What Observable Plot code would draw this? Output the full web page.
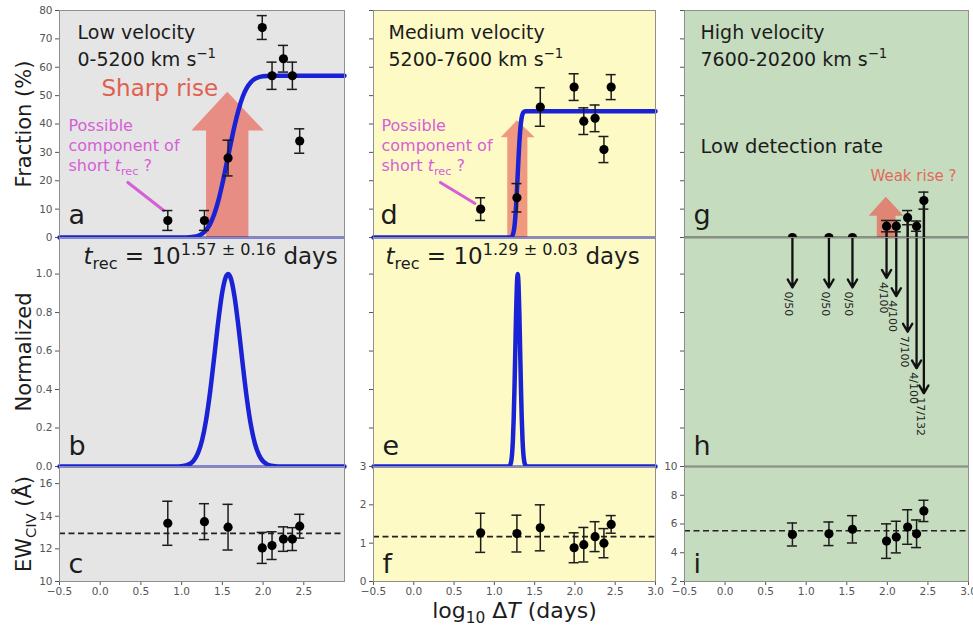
<!DOCTYPE html>
<html><head><meta charset="utf-8">
<script src="https://cdn.jsdelivr.net/npm/d3@7"></script>
<script src="https://cdn.jsdelivr.net/npm/@observablehq/plot@0.6"></script>
<style>
body{margin:0;background:#fff;}
#fig{position:relative;width:973px;height:628px;overflow:hidden;background:#fff;}
#fig svg{position:absolute;overflow:visible;}
</style></head><body><div id="fig"></div>
<script>
// ---------------- data ----------------
const logDT = [0.83, 1.28, 1.57, 1.99, 2.11, 2.25, 2.36, 2.45];
const fracLow = [6, 6, 28, 74, 57, 63, 57, 34];
const fracLowErr = [3.5, 3.5, 6.3, 4.2, 4.8, 4.7, 4.8, 4.3];
const fracMed = [10, 14, 46, 53, 41, 42, 31, 53];
const fracMedErr = [4, 5, 6.8, 4.7, 4.7, 4.7, 4.6, 4.4];
const fracHigh = [0, 0, 0, 4, 4, 7, 4, 13];
const fracHighErr = [0, 0, 0, 2, 2, 2.5, 1.8, 3];
const detLabels = ["0/50", "0/50", "0/50", "4/100", "4/100", "7/100", "4/100", "17/132"];
const detArrowEnd = [0.93, 0.93, 0.93, 0.98, 0.885, 0.70, 0.51, 0.38];
const ewLow = [13.57, 13.67, 13.33, 12.06, 12.2, 12.6, 12.6, 13.39];
const ewLowErr = [1.35, 1.1, 1.4, 0.95, 0.85, 0.75, 0.7, 0.73];
const ewMed = [1.27, 1.25, 1.40, 0.88, 0.96, 1.17, 1.0, 1.49];
const ewMedErr = [0.51, 0.48, 0.6, 0.39, 0.45, 0.39, 0.38, 0.23];
const ewHigh = [5.27, 5.32, 5.63, 4.81, 5.09, 5.79, 5.32, 6.91];
const ewHighErr = [0.8, 0.82, 0.95, 1.2, 1.1, 1.2, 0.96, 0.74];
const ewMean = {low: 12.95, med: 1.17, high: 5.53};

// fitted curves
const fitLowX = [-0.5, 0.95, 1.00, 1.05, 1.10, 1.15, 1.20, 1.25, 1.30, 1.35, 1.40, 1.45, 1.50, 1.55, 1.60, 1.65, 1.70, 1.75, 1.80, 1.85, 1.90, 1.95, 2.00, 2.10, 3.0];
const fitLowY = [0, 0, 0.01, 0.03, 0.09, 0.25, 0.59, 1.3, 2.6, 4.8, 8.2, 12.9, 18.9, 25.7, 32.7, 39.4, 45.1, 49.6, 52.7, 54.7, 55.9, 56.5, 56.8, 57.0, 57.0];
const pdfLowX = [-0.5, 0.95, 1.00, 1.05, 1.10, 1.15, 1.20, 1.25, 1.30, 1.35, 1.40, 1.45, 1.50, 1.55, 1.57, 1.60, 1.65, 1.70, 1.75, 1.80, 1.85, 1.90, 1.95, 2.00, 2.05, 2.10, 2.15, 2.20, 3.0];
const pdfLowY = [0, 0, 0.002, 0.005, 0.013, 0.032, 0.069, 0.135, 0.241, 0.389, 0.569, 0.755, 0.909, 0.992, 1.0, 0.983, 0.882, 0.719, 0.531, 0.356, 0.216, 0.119, 0.060, 0.027, 0.011, 0.004, 0.001, 0, 0];
const fitMedX = [-0.5, 1.17, 1.18, 1.19, 1.20, 1.21, 1.22, 1.23, 1.24, 1.25, 1.26, 1.27, 1.28, 1.29, 1.30, 1.31, 1.32, 1.33, 1.34, 1.35, 1.36, 1.37, 1.38, 1.39, 1.41, 3.0];
const fitMedY = [0, 0, 0.01, 0.02, 0.06, 0.17, 0.44, 1.01, 2.13, 4.06, 7.06, 11.24, 16.44, 22.25, 28.06, 33.26, 37.44, 40.44, 42.37, 43.49, 44.06, 44.33, 44.44, 44.48, 44.5, 44.5];
const pdfMedX = [-0.5, 1.16, 1.17, 1.18, 1.19, 1.20, 1.21, 1.22, 1.23, 1.24, 1.25, 1.26, 1.27, 1.28, 1.29, 1.30, 1.31, 1.32, 1.33, 1.34, 1.35, 1.36, 1.37, 1.38, 1.39, 1.40, 1.41, 1.42, 3.0];
const pdfMedY = [0, 0, 0.0003, 0.0012, 0.0039, 0.0111, 0.0286, 0.0657, 0.1353, 0.2494, 0.4111, 0.6065, 0.8007, 0.946, 1, 0.946, 0.8007, 0.6065, 0.4111, 0.2494, 0.1353, 0.0657, 0.0286, 0.0111, 0.0039, 0.0012, 0.0003, 0, 0];

// highlight arrows (outline vertices, data units)
const sharpArrowX = [1.30, 1.30, 1.12, 1.56, 2.01, 1.82, 1.82];
const sharpArrowY = [0, 37.7, 37.7, 51.4, 37.7, 37.7, 0];
const medArrowX = [1.16, 1.16, 1.08, 1.28, 1.50, 1.41, 1.41];
const medArrowY = [0, 35.3, 35.3, 41.3, 35.3, 35.3, 0];
const weakArrowX = [1.87, 1.87, 1.77, 1.98, 2.20, 2.10, 2.10];
const weakArrowY = [0, 7.7, 7.7, 14.4, 7.7, 7.7, 0];
const pointerLowX = [0.34, 0.78], pointerLowY = [19.4, 9.5];
const pointerMedX = [0.33, 0.76], pointerMedY = [19.4, 12.0];

// tick values
const xTicksLeft = [-0.5, 0, 0.5, 1, 1.5, 2, 2.5];
const xTicksOther = [-0.5, 0, 0.5, 1, 1.5, 2, 2.5, 3];
const fracTicks = [0, 10, 20, 30, 40, 50, 60, 70, 80];
const normTicks = [0, 0.2, 0.4, 0.6, 0.8, 1.0];
const ewLowTicks = [10, 12, 14, 16];
const ewMedTicks = [0, 1, 2, 3];
const ewHighTicks = [2, 4, 6, 8, 10];

// ---------------- layout / style ----------------
const FONT = "DejaVu Sans, sans-serif";
const M = 50;
const BG = {L: "#e5e5e5", M: "#fdfac6", R: "#c6dcbf"};
const COLS = {L: [59, 344], M: [373, 655], R: [684, 968]};
const ROWS = {T: [10, 237], C: [237, 466], B: [466, 581]};
const BLUE = "#1a22d6", MAG = "#d65fd6", FRAME = "#8f8f8f", INK = "#1c1c1c", RED = "#e0604f", TICK = "#555";
const fmt1 = d3.format(".1f");
const fmtInt = d => String(d);
const noLab = () => "";
const fig = document.getElementById("fig");

const pts = (xs, ys) => xs.map((x, i) => ({x, y: ys[i]}));

function errorbars(ys, es, opts = {}) {
  const d = logDT.map((x, i) => ({x, y: ys[i], e: es[i]}));
  const de = d.filter(r => r.e > 0);
  const cap = 0.062;
  return [
    Plot.ruleX(de, {x: "x", y1: r => r.y - r.e, y2: r => r.y + r.e, stroke: INK, strokeWidth: 1.5}),
    Plot.ruleY(de, {y: r => r.y - r.e, x1: r => r.x - cap, x2: r => r.x + cap, stroke: INK, strokeWidth: 1.5}),
    Plot.ruleY(de, {y: r => r.y + r.e, x1: r => r.x - cap, x2: r => r.x + cap, stroke: INK, strokeWidth: 1.5}),
    Plot.dot(d, {x: "x", y: "y", r: 4.6, fill: "#000", stroke: "none", ...opts})
  ];
}

function makePanel(col, row, cfg) {
  const [x0, x1] = COLS[col], [y0, y1] = ROWS[row];
  const at = (str, px, py, o = {}) => Plot.text([str], {
    frameAnchor: "top-left", dx: px - x0, dy: py - y0, text: d => d,
    textAnchor: "start", lineAnchor: "bottom", fill: INK, ...o
  });
  const {ticks, format, ...yRest} = cfg.y;
  const svg = Plot.plot({
    width: x1 - x0 + 2 * M, height: y1 - y0 + 2 * M,
    marginLeft: M, marginRight: M, marginTop: M, marginBottom: M,
    style: {background: "transparent", overflow: "visible", fontFamily: FONT, fontSize: "10.5px", color: TICK},
    x: {domain: [-0.5, 3], axis: null, label: null, ...(cfg.x || {})},
    y: {label: null, axis: null, ...yRest},
    marks: [
      Plot.frame({fill: BG[col], stroke: "none"}),
      Plot.axisY(ticks, {tickSize: 4, tickPadding: 3, tickFormat: format || noLab, stroke: TICK, fill: TICK, label: null}),
      ...cfg.marks(at),
      Plot.frame({stroke: FRAME, strokeWidth: 1})
    ]
  });
  svg.style.left = (x0 - M) + "px";
  svg.style.top = (y0 - M) + "px";
  fig.appendChild(svg);
  richify(svg);
  return svg;
}

// turn _{..} ^{..} *..* markup into sub/superscript / italic tspans
function richify(svg) {
  const ns = "http://www.w3.org/2000/svg";
  svg.querySelectorAll("text").forEach(t => {
    const lines = t.querySelectorAll("tspan");
    const targets = lines.length ? Array.from(lines) : [t];
    targets.forEach(el => {
      const s = el.textContent;
      if (!/(_\{|\^\{|\*)/.test(s)) return;
      const fs = parseFloat(getComputedStyle(el).fontSize) || 12;
      el.textContent = "";
      const add = (txt, attrs) => {
        const ts = document.createElementNS(ns, "tspan");
        for (const k in attrs) ts.setAttribute(k, attrs[k]);
        ts.textContent = txt;
        el.appendChild(ts);
      };
      const re = /(_\{[^}]*\}|\^\{[^}]*\}|\*[^*]+\*)/g;
      let last = 0, m;
      while ((m = re.exec(s))) {
        if (m.index > last) add(s.slice(last, m.index), {});
        const tok = m[0];
        if (tok[0] === "_") add(tok.slice(2, -1), {"font-size": (0.7 * fs) + "px", "baseline-shift": (-0.22 * fs) + "px"});
        else if (tok[0] === "^") add(tok.slice(2, -1), {"font-size": (0.7 * fs) + "px", "baseline-shift": (0.4 * fs) + "px"});
        else add(tok.slice(1, -1), {"font-style": "italic"});
        last = re.lastIndex;
      }
      if (last < s.length) add(s.slice(last), {});
    });
  });
}

const yLabel = (str, o = {}) => Plot.text([str], {frameAnchor: "left", dx: -29, rotate: -90, text: d => d,
  textAnchor: "middle", lineAnchor: "bottom", fontSize: 21, fill: INK, ...o});

const bottomX = ticks => ({axis: "bottom", ticks, tickFormat: fmt1, tickSize: 4, tickPadding: 2});

// ---------------- top row ----------------
makePanel("L", "T", {
  y: {domain: [0, 80], ticks: fracTicks, format: fmtInt},
  marks: at => [
    Plot.line(pts(sharpArrowX, sharpArrowY), {x: "x", y: "y", fill: "#e8867c", stroke: "none", fillOpacity: 0.92}),
    Plot.line(pts(fitLowX, fitLowY), {x: "x", y: "y", stroke: BLUE, strokeWidth: 4.5, curve: "monotone-x"}),
    Plot.line(pts(pointerLowX, pointerLowY), {x: "x", y: "y", stroke: MAG, strokeWidth: 3}),
    ...errorbars(fracLow, fracLowErr),
    at("Low velocity\n0-5200 km s^{−1}", 77, 65, {fontSize: 19, lineHeight: 1.4}),
    at("Sharp rise", 101, 95, {fontSize: 23, fill: RED}),
    at("Possible\ncomponent of\nshort *t*_{rec} ?", 68, 170, {fontSize: 16, lineHeight: 1.25, fill: MAG}),
    at("a", 68, 223, {fontSize: 27}),
    yLabel("Fraction (%)")
  ]
});
makePanel("M", "T", {
  y: {domain: [0, 80], ticks: fracTicks},
  marks: at => [
    Plot.line(pts(medArrowX, medArrowY), {x: "x", y: "y", fill: "#f0937a", stroke: "none", fillOpacity: 0.95}),
    Plot.line(pts(fitMedX, fitMedY), {x: "x", y: "y", stroke: BLUE, strokeWidth: 4.5, curve: "monotone-x"}),
    Plot.line(pts(pointerMedX, pointerMedY), {x: "x", y: "y", stroke: MAG, strokeWidth: 3}),
    ...errorbars(fracMed, fracMedErr),
    at("Medium velocity\n5200-7600 km s^{−1}", 388, 65, {fontSize: 19, lineHeight: 1.4}),
    at("Possible\ncomponent of\nshort *t*_{rec} ?", 381, 170, {fontSize: 16, lineHeight: 1.25, fill: MAG}),
    at("d", 380, 223, {fontSize: 27})
  ]
});
makePanel("R", "T", {
  y: {domain: [0, 80], ticks: fracTicks},
  marks: at => {
    const d = logDT.map((x, i) => ({x, y: fracHigh[i]}));
    return [
      Plot.line(pts(weakArrowX, weakArrowY), {x: "x", y: "y", fill: "#e08070", stroke: "none", fillOpacity: 0.95}),
      Plot.ruleY([0], {stroke: "#333", strokeWidth: 1.3}),
      Plot.ruleX(d, {x: "x", y1: 0, y2: "y", stroke: "#111", strokeWidth: 2.5}),
      ...errorbars(fracHigh, fracHighErr, {clip: true}),
      at("High velocity\n7600-20200 km s^{−1}", 700, 65, {fontSize: 19, lineHeight: 1.4}),
      at("Low detection rate", 700, 152, {fontSize: 19.5}),
      at("Weak rise ?", 870, 180, {fontSize: 15, fill: "#e06a5a"}),
      at("g", 693, 223, {fontSize: 27})
    ];
  }
});

// ---------------- middle row ----------------
makePanel("L", "C", {
  y: {domain: [0, 1.19], ticks: normTicks, format: fmt1},
  marks: at => [
    Plot.ruleY([1.19], {stroke: BLUE, strokeWidth: 2.2}),
    Plot.line(pts(pdfLowX, pdfLowY), {x: "x", y: "y", stroke: BLUE, strokeWidth: 4.5, curve: "monotone-x"}),
    at("*t*_{rec} = 10^{1.57 ± 0.16} days", 83, 263, {fontSize: 23}),
    at("b", 68, 454, {fontSize: 27}),
    yLabel("Normalized")
  ]
});
makePanel("M", "C", {
  y: {domain: [0, 1.19], ticks: normTicks},
  marks: at => [
    Plot.ruleY([1.19], {stroke: BLUE, strokeWidth: 2.2}),
    Plot.line(pts(pdfMedX, pdfMedY), {x: "x", y: "y", stroke: BLUE, strokeWidth: 4.5, curve: "monotone-x"}),
    at("*t*_{rec} = 10^{1.29 ± 0.03} days", 385, 263, {fontSize: 23}),
    at("e", 382, 454, {fontSize: 27})
  ]
});
makePanel("R", "C", {
  y: {domain: [0, 1.19], ticks: normTicks},
  marks: at => {
    const d = logDT.map((x, i) => ({x, end: detArrowEnd[i], lab: detLabels[i]}));
    return [
      Plot.ruleY([1.19], {stroke: "#333", strokeWidth: 1.3}),
      Plot.arrow(d, {x1: "x", x2: "x", y1: () => 1.19, y2: "end", stroke: "#111", strokeWidth: 2.3, headLength: 6}),
      Plot.text(d, {x: "x", y: "end", text: "lab", rotate: 90, textAnchor: "start", lineAnchor: "middle", dx: -3.5, dy: 4, fontSize: 11, fill: "#222"}),
      at("h", 693, 454, {fontSize: 27})
    ];
  }
});

// ---------------- bottom row (drawn last so its axis labels stay on top) ----------------
makePanel("L", "B", {
  x: bottomX(xTicksLeft),
  y: {domain: [10, 17.05], ticks: ewLowTicks, format: fmtInt},
  marks: at => [
    Plot.ruleY([17.05], {stroke: BLUE, strokeWidth: 2.2}),
    Plot.ruleY([ewMean.low], {stroke: "#222", strokeWidth: 1.6, strokeDasharray: "6,3.5"}),
    ...errorbars(ewLow, ewLowErr),
    at("c", 68, 572, {fontSize: 27}),
    yLabel("EW_{CIV} (Å)")
  ]
});
makePanel("M", "B", {
  x: bottomX(xTicksOther),
  y: {domain: [0, 3], ticks: ewMedTicks, format: fmtInt},
  marks: at => [
    Plot.ruleY([3], {stroke: BLUE, strokeWidth: 2.2}),
    Plot.ruleY([ewMean.med], {stroke: "#222", strokeWidth: 1.6, strokeDasharray: "6,3.5"}),
    ...errorbars(ewMed, ewMedErr),
    at("f", 382, 572, {fontSize: 27}),
    Plot.text(["log_{10} Δ*T* (days)"], {frameAnchor: "bottom", dy: 36, text: d => d, textAnchor: "middle", lineAnchor: "bottom", fontSize: 22, fill: INK})
  ]
});
makePanel("R", "B", {
  x: bottomX(xTicksOther),
  y: {domain: [2, 10], ticks: ewHighTicks, format: fmtInt},
  marks: at => [
    Plot.ruleY([10], {stroke: "#333", strokeWidth: 1.3}),
    Plot.ruleY([ewMean.high], {stroke: "#222", strokeWidth: 1.6, strokeDasharray: "6,3.5"}),
    ...errorbars(ewHigh, ewHighErr),
    at("i", 693, 572, {fontSize: 27})
  ]
});
</script>
</body></html>
